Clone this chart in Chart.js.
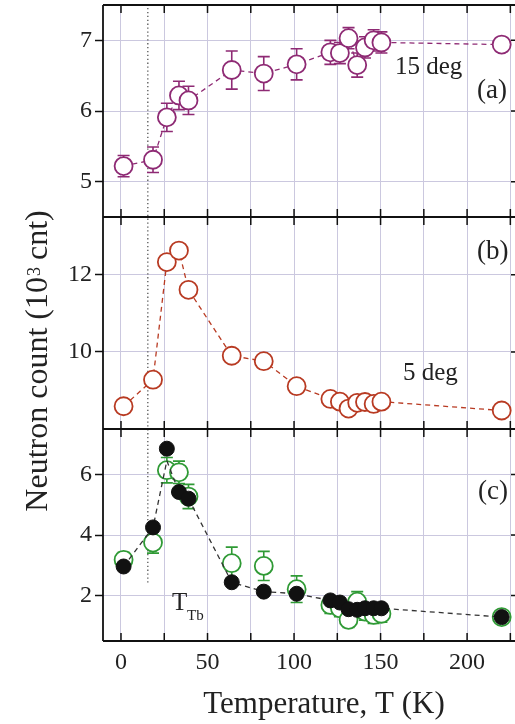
<!DOCTYPE html>
<html>
<head>
<meta charset="utf-8">
<script src="https://cdn.jsdelivr.net/npm/chart.js@4.4.0/dist/chart.umd.min.js"></script>
<style>
  html, body { margin: 0; padding: 0; background: #fff; overflow: hidden; }
  #wrap { position: relative; width: 525px; height: 724px; }
</style>
</head>
<body>
<div id="wrap"><canvas id="myChart" width="525" height="724"></canvas></div>
<script>
// Temperatures (K), shared by all three panels
const temps = [1.5, 18.5, 26.5, 33.5, 39, 64, 82.5, 101.5, 121, 126.5, 131.5, 136.5, 141, 146, 150.5, 220];

// (a) 15 deg
const countsA = [5.22, 5.31, 5.91, 6.22, 6.15, 6.58, 6.53, 6.66, 6.83, 6.82, 7.03, 6.65, 6.9, 7.0, 6.97, 6.94];
const errA    = [0.15, 0.18, 0.2, 0.2, 0.2, 0.27, 0.24, 0.22, 0.17, 0.15, 0.15, 0.17, 0.15, 0.15, 0.15, 0.1];

// (b) 5 deg
const countsB = [8.59, 9.28, 12.33, 12.63, 11.61, 9.9, 9.76, 9.11, 8.78, 8.71, 8.53, 8.68, 8.7, 8.65, 8.71, 8.48];

// (c) filled and open symbols, plus the dashed guide
const countsCFilled = [2.96, 4.25, 6.85, 5.42, 5.2, 2.44, 2.13, 2.06, 1.84, 1.77, 1.55, 1.53, 1.58, 1.58, 1.58, 1.29];
const countsCOpen   = [3.18, 3.75, 6.14, 6.07, 5.27, 3.07, 2.98, 2.21, 1.69, 1.58, 1.2, 1.8, 1.47, 1.36, 1.4, 1.29];
const errC          = [0.25, 0.35, 0.42, 0.37, 0.4, 0.53, 0.48, 0.44, 0.28, 0.28, 0.25, 0.33, 0.28, 0.28, 0.28, 0.05];
const guideC        = [2.96, 4.25, 6.45, 5.42, 5.2, 2.44, 2.13, 2.06, 1.84, 1.77, 1.55, 1.53, 1.58, 1.58, 1.58, 1.29];

// ticks
const xGrid = [0, 25, 50, 75, 100, 125, 150, 175, 200, 225];
const xLabels = [0, 50, 100, 150, 200];
const ticksA = [5, 6, 7];
const ticksB = [10, 12];
const ticksC = [2, 4, 6];

const T_TB = 15.5; // dotted marker position
const T_TB_END = 2.4; // where it stops in panel (c)

const PURPLE = '#8e2a74';
const RED = '#b83a22';
const GREEN = '#2f9a35';
const BLACK = '#111';
const GRID = '#cbc8df';
const SERIF = '"Liberation Serif", "DejaVu Serif", serif';

const pts = (ys) => temps.map((t, i) => ({ x: t, y: ys[i] }));

// no extra room for the end labels
function noPadding(scale) {
    scale.paddingTop = 0;
    scale.paddingBottom = 0;
    scale.paddingLeft = 0;
    scale.paddingRight = 0;
}

// y axes stacked on the left; the last one defined ends up on top
function yAxis(min, max, tickVals) {
    return {
        type: 'linear',
        position: 'left',
        stack: 'panels',
        stackWeight: 1,
        min: min,
        max: max,
        afterBuildTicks: (axis) => { axis.ticks = tickVals.map(v => ({ value: v })); },
        afterFit: (scale) => { scale.width = 103; noPadding(scale); },
        grid: { color: GRID, lineWidth: 1, drawTicks: true, tickLength: 8, tickColor: BLACK, tickWidth: 1.5 },
        border: { display: false },
        ticks: { font: { family: SERIF, size: 24 }, color: '#222', padding: 3 }
    };
}

// frame, tick marks, error bars, labels
const decorations = {
    id: 'decorations',
    beforeDatasetsDraw(chart) {
        const ctx = chart.ctx;
        const x = chart.scales.x;
        const yA = chart.scales.yA;
        const yC = chart.scales.yC;

        // dotted T_Tb marker
        ctx.save();
        ctx.strokeStyle = '#555';
        ctx.lineWidth = 1.3;
        ctx.setLineDash([1.3, 2.6]);
        ctx.beginPath();
        ctx.moveTo(x.getPixelForValue(T_TB), yA.top + 3);
        ctx.lineTo(x.getPixelForValue(T_TB), yC.getPixelForValue(T_TB_END));
        ctx.stroke();
        ctx.restore();

        // error bars
        const bars = (vals, errs, axis, color) => {
            ctx.save();
            ctx.strokeStyle = color;
            ctx.lineWidth = 1.6;
            temps.forEach((t, i) => {
                const px = x.getPixelForValue(t);
                const top = axis.getPixelForValue(vals[i] + errs[i]);
                const bot = axis.getPixelForValue(vals[i] - errs[i]);
                ctx.beginPath();
                ctx.moveTo(px, top); ctx.lineTo(px, bot);
                ctx.moveTo(px - 6, top); ctx.lineTo(px + 6, top);
                ctx.moveTo(px - 6, bot); ctx.lineTo(px + 6, bot);
                ctx.stroke();
            });
            ctx.restore();
        };
        bars(countsA, errA, yA, PURPLE);
        bars(countsCOpen, errC, yC, GREEN);
    },
    afterDatasetsDraw(chart) {
        const ctx = chart.ctx;
        const area = chart.chartArea;
        const x = chart.scales.x;
        const yA = chart.scales.yA;
        const yB = chart.scales.yB;
        const yC = chart.scales.yC;
        const edges = [area.top, yA.bottom, yB.bottom, area.bottom];

        ctx.save();
        ctx.strokeStyle = BLACK;
        ctx.lineWidth = 1.8;
        ctx.beginPath();
        ctx.moveTo(area.left, area.top);
        ctx.lineTo(area.left, area.bottom);
        ctx.moveTo(area.right, area.top);
        ctx.lineTo(area.right, area.bottom);
        edges.forEach(e => { ctx.moveTo(area.left, e); ctx.lineTo(area.right, e); });
        ctx.stroke();

        // inward x ticks on every panel edge
        ctx.lineWidth = 1.5;
        ctx.beginPath();
        xGrid.forEach(v => {
            const px = x.getPixelForValue(v);
            edges.forEach((e, k) => {
                if (k > 0) { ctx.moveTo(px, e); ctx.lineTo(px, e - 8); }
                if (k < edges.length - 1) { ctx.moveTo(px, e); ctx.lineTo(px, e + 8); }
            });
        });
        // inward y ticks on the right edge
        [[yA, ticksA], [yB, ticksB], [yC, ticksC]].forEach(([axis, vals]) => {
            vals.forEach(v => {
                const py = axis.getPixelForValue(v);
                ctx.moveTo(area.right, py); ctx.lineTo(area.right - 8, py);
            });
        });
        ctx.stroke();

        // panel labels
        ctx.fillStyle = '#222';
        ctx.textBaseline = 'alphabetic';
        ctx.textAlign = 'left';
        ctx.font = '25px ' + SERIF;
        ctx.fillText('15 deg', 395, 74);
        ctx.fillText('5 deg', 403, 380);
        ctx.font = '27px ' + SERIF;
        ctx.fillText('(a)', 477, 98);
        ctx.fillText('(b)', 477, 259);
        ctx.fillText('(c)', 478, 499);
        ctx.font = '25px ' + SERIF;
        ctx.fillText('T', 172, 610);
        ctx.font = '15px ' + SERIF;
        ctx.fillText('Tb', 187, 620);

        // axis titles
        ctx.font = '31px ' + SERIF;
        ctx.textAlign = 'center';
        ctx.fillText('Temperature, T (K)', 324, 713);

        ctx.translate(47, 361);
        ctx.rotate(-Math.PI / 2);
        const p1 = 'Neutron count (10', p2 = '3', p3 = ' cnt)';
        ctx.font = '32px ' + SERIF;
        const w1 = ctx.measureText(p1).width, w3 = ctx.measureText(p3).width;
        ctx.font = '18px ' + SERIF;
        const w2 = ctx.measureText(p2).width;
        let cx = -(w1 + w2 + w3) / 2;
        ctx.textAlign = 'left';
        ctx.font = '32px ' + SERIF;
        ctx.fillText(p1, cx, 0);
        ctx.font = '18px ' + SERIF;
        ctx.fillText(p2, cx + w1 + 1, -7);
        ctx.font = '32px ' + SERIF;
        ctx.fillText(p3, cx + w1 + w2, 0);
        ctx.restore();
    }
};

const ctx = document.getElementById('myChart').getContext('2d');
const myChart = new Chart(ctx, {
    type: 'scatter',
    data: {
        datasets: [
            {
                label: 'filled',
                data: pts(countsCFilled),
                yAxisID: 'yC',
                showLine: false,
                pointRadius: 7.5,
                pointBackgroundColor: BLACK,
                pointBorderColor: BLACK,
                pointBorderWidth: 1,
                order: 0
            },
            {
                label: 'guide',
                data: pts(guideC),
                yAxisID: 'yC',
                showLine: true,
                borderColor: '#333',
                borderWidth: 1.3,
                borderDash: [5, 4],
                pointRadius: 0,
                order: 1
            },
            {
                label: 'open',
                data: pts(countsCOpen),
                yAxisID: 'yC',
                showLine: false,
                pointRadius: 9,
                pointBackgroundColor: '#fff',
                pointBorderColor: GREEN,
                pointBorderWidth: 1.8,
                order: 2
            },
            {
                label: '15 deg',
                data: pts(countsA),
                yAxisID: 'yA',
                showLine: true,
                borderColor: PURPLE,
                borderWidth: 1.3,
                borderDash: [5, 4],
                pointRadius: 9,
                pointBackgroundColor: '#fff',
                pointBorderColor: PURPLE,
                pointBorderWidth: 1.8,
                order: 3
            },
            {
                label: '5 deg',
                data: pts(countsB),
                yAxisID: 'yB',
                showLine: true,
                borderColor: RED,
                borderWidth: 1.3,
                borderDash: [5, 4],
                pointRadius: 9,
                pointBackgroundColor: '#fff',
                pointBorderColor: RED,
                pointBorderWidth: 1.8,
                order: 4
            }
        ]
    },
    options: {
        responsive: false,
        animation: false,
        layout: { autoPadding: false, padding: { top: 5, right: 6, left: 0, bottom: 0 } },
        plugins: {
            legend: { display: false },
            tooltip: { enabled: false }
        },
        scales: {
            x: {
                type: 'linear',
                position: 'bottom',
                min: -10.4,
                max: 230,
                afterBuildTicks: (axis) => { axis.ticks = xGrid.map(v => ({ value: v })); },
                afterFit: (scale) => { scale.height = 83; noPadding(scale); },
                grid: { color: GRID, lineWidth: 1, drawTicks: false },
                border: { display: false },
                ticks: {
                    font: { family: SERIF, size: 24 },
                    color: '#222',
                    padding: 7,
                    maxRotation: 0,
                    autoSkip: false,
                    callback: (v) => xLabels.includes(v) ? String(v) : ''
                }
            },
            yC: yAxis(0.5, 7.5, ticksC),
            yB: yAxis(8, 13.5, ticksB),
            yA: yAxis(4.5, 7.5, ticksA)
        }
    },
    plugins: [decorations]
});
</script>
</body>
</html>
